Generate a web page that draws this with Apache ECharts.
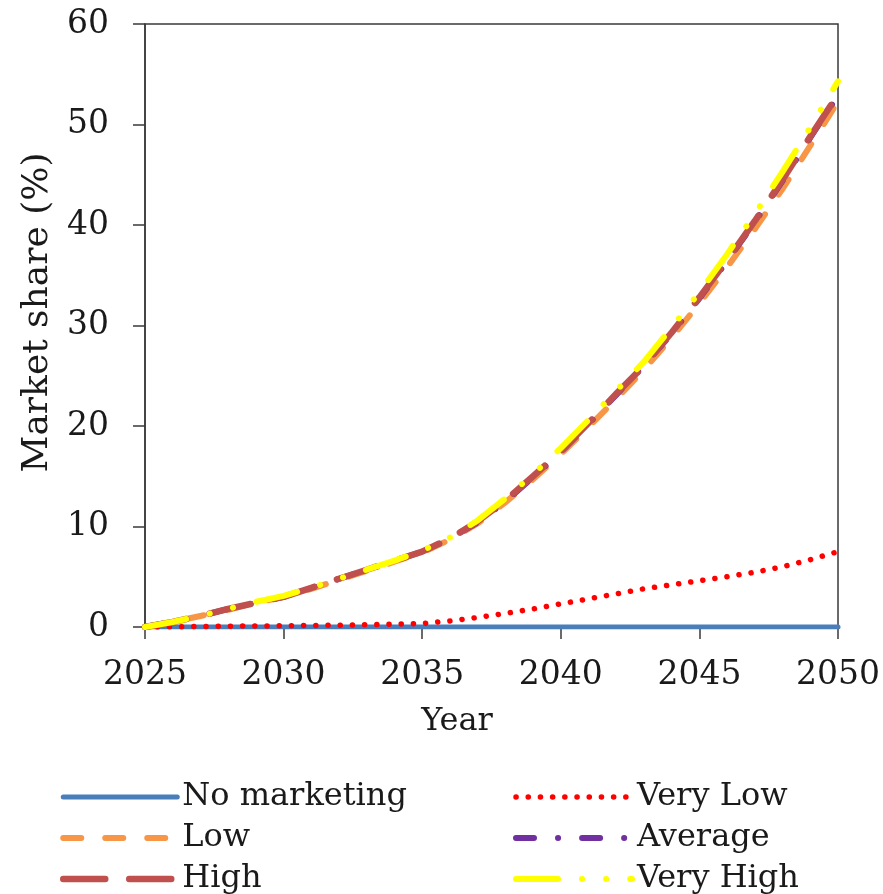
<!DOCTYPE html>
<html>
<head>
<meta charset="utf-8">
<script src="https://cdn.jsdelivr.net/npm/echarts@6/dist/echarts.min.js"></script>
<style>html,body{margin:0;padding:0;background:#fff;}#c{width:883px;height:894px;}</style>
</head>
<body>
<div id="c"></div>
<script>
const years = [2025,2026,2027,2028,2029,2030,2031,2032,2033,2034,2035,2036,2037,2038,2039,2040,2041,2042,2043,2044,2045,2046,2047,2048,2049,2050];
const noMarketing = [0,0,0,0,0,0,0,0,0,0,0,0,0,0,0,0,0,0,0,0,0,0,0,0,0,0];
const veryLow = [0,0.02,0.05,0.08,0.1,0.12,0.15,0.18,0.22,0.28,0.35,0.6,0.95,1.35,1.8,2.3,2.8,3.3,3.8,4.2,4.6,5.0,5.45,6.0,6.7,7.5];
const low = [0,0.5,1.1,1.7,2.4,3.0,3.8,4.7,5.6,6.5,7.4,8.7,10.3,12.4,14.7,17.2,19.9,22.7,25.6,28.8,32.2,35.8,39.6,43.6,47.9,52.3];
const average = [0,0.5,1.1,1.8,2.4,3.0,3.9,4.8,5.7,6.6,7.5,8.8,10.4,12.5,14.9,17.4,20.2,23.1,26.0,29.2,32.7,36.4,40.3,44.4,48.7,52.9];
const high = [0,0.5,1.1,1.8,2.4,3.0,3.9,4.8,5.7,6.6,7.5,8.8,10.5,12.6,15.0,17.5,20.3,23.2,26.0,29.3,32.8,36.5,40.4,44.5,48.8,53.0];
const veryHigh = [0,0.5,1.1,1.8,2.5,3.1,3.9,4.8,5.7,6.6,7.6,8.9,10.6,12.8,15.2,17.8,20.6,23.5,26.4,29.8,33.3,37.1,41.1,45.3,49.7,54.3];
const yTicks = [0,10,20,30,40,50,60];
const legendLeft = ['No marketing','Low','High'];
const legendRight = ['Very Low','Average','Very High'];

const pair = arr => years.map((y,i)=>[y,arr[i]]);
const FONT = 'DejaVu Serif';
const axisColor = '#3a3a3a';

function mk(name, data, color, type, width){
  return {
    name, type:'line', data: pair(data), symbol:'none', showSymbol:false,
    lineStyle:{color, width, type, cap:'round', join:'round'},
    itemStyle:{color},
    emphasis:{disabled:true}, animation:false
  };
}

const legendCommon = {
  orient:'vertical', top:781, padding:0, height:120,
  itemHeight:14, itemGap:9,
  textStyle:{fontFamily:FONT, fontSize:32, color:'#1a1a1a', lineHeight:31},
  itemStyle:{opacity:0, color:'rgba(0,0,0,0)', borderWidth:0},
  lineStyle:{width:'inherit', type:'inherit', cap:'inherit', opacity:1},
  selectedMode:false
};

const chart = echarts.init(document.getElementById('c'), null, {renderer:'canvas'});
chart.setOption({
  animation:false,
  backgroundColor:'#fff',
  grid:{left:145, right:45, top:24, bottom:267, show:true, borderColor:axisColor, borderWidth:1.5, backgroundColor:'transparent'},
  xAxis:{
    type:'value', min:2025, max:2050, interval:5,
    name:'Year', nameLocation:'middle', nameGap:79,
    nameTextStyle:{fontFamily:FONT, fontSize:32, color:'#1a1a1a', padding:[0,69,0,0]},
    axisLine:{show:true, lineStyle:{color:axisColor, width:1.5}},
    axisTick:{show:true, inside:false, length:12, lineStyle:{color:axisColor, width:1.5}},
    axisLabel:{margin:32, fontFamily:FONT, fontSize:33, color:'#1a1a1a', formatter:v=>String(v)},
    splitLine:{show:false}
  },
  yAxis:{
    type:'value', min:yTicks[0], max:yTicks[yTicks.length-1], interval:10,
    name:'Market share (%)', nameLocation:'middle', nameGap:84,
    nameTextStyle:{fontFamily:FONT, fontSize:36, color:'#1a1a1a', padding:[0,0,0,26]},
    axisLine:{show:true, lineStyle:{color:axisColor, width:1.5}},
    axisTick:{show:true, inside:false, length:12, lineStyle:{color:axisColor, width:1.5}},
    axisLabel:{margin:36, fontFamily:FONT, fontSize:33, color:'#1a1a1a'},
    splitLine:{show:false}
  },
  legend:[
    Object.assign({}, legendCommon, {data:legendLeft, left:60, itemWidth:114}),
    Object.assign({}, legendCommon, {data:legendRight, left:513, itemWidth:116})
  ],
  series:[
    mk('No marketing', noMarketing, '#4a7ebb', 'solid', 5),
    mk('Very Low', veryLow, '#ff0000', [0.1,12.1], 5.5),
    mk('Low', low, '#f79646', [18,24], 6),
    mk('Average', average, '#7030a0', [18,24,0.1,24], 6),
    mk('High', high, '#c0504d', [42,24], 6.5),
    mk('Very High', veryHigh, '#ffff00', [42,24,0.1,24,0.1,24], 6)
  ]
});
</script>
</body>
</html>
